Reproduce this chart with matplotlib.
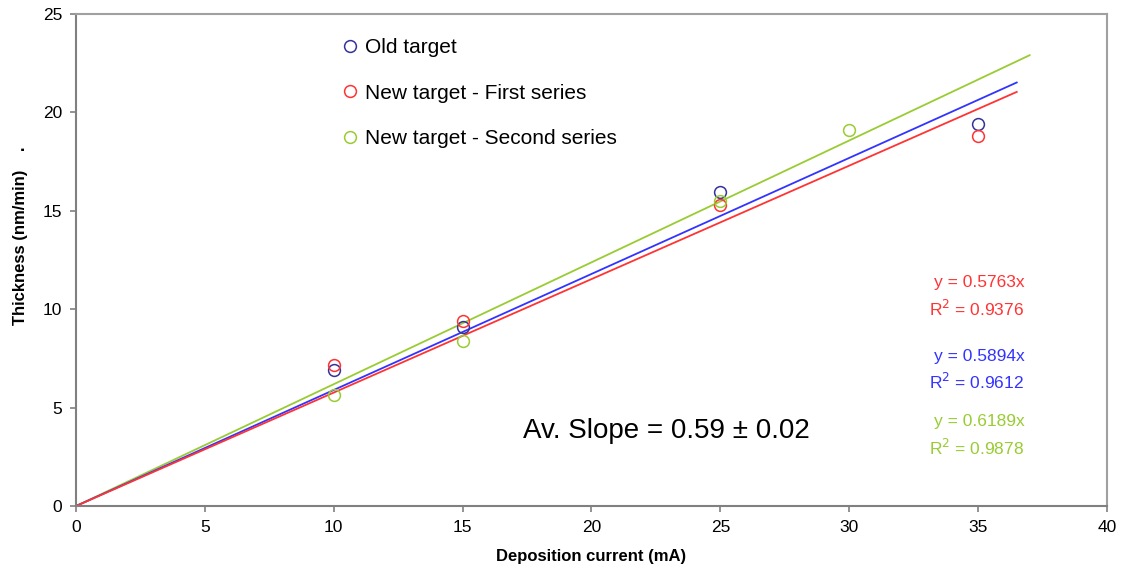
import numpy as np
import matplotlib.pyplot as plt

plt.rcParams['font.family'] = ['Liberation Sans', 'DejaVu Sans']

# measured points
x_old = [10, 15, 25, 35]
y_old = [6.92, 9.1, 15.95, 19.4]
x_first = [10, 15, 25, 35]
y_first = [7.18, 9.42, 15.3, 18.82]
x_second = [10, 15, 25, 30]
y_second = [5.64, 8.38, 15.5, 19.1]

labels = ['Old target', 'New target - First series', 'New target - Second series']

# trendlines through origin
slope_old = 0.5894
slope_first = 0.5763
slope_second = 0.6189
r2_old = 0.9612
r2_first = 0.9376
r2_second = 0.9878
x_end_old = 36.5
x_end_first = 36.5
x_end_second = 37.0

c_old_pt = '#333399'
c_old_ln = '#3333ff'
c_first = '#ff3333'
c_second = '#99cc33'

fig = plt.figure(figsize=(11.23, 5.77), dpi=100)
ax = fig.add_axes([0.0677, 0.123, 0.918, 0.853])

for xe, s, c in [(x_end_second, slope_second, c_second),
                 (x_end_old, slope_old, c_old_ln),
                 (x_end_first, slope_first, c_first)]:
    xs = np.array([0, xe])
    ax.plot(xs, s * xs, color=c, lw=1.3, zorder=2)

ax.plot(x_old, y_old, 'o', mfc='none', mec=c_old_pt, ms=8.5, mew=1.1, label=labels[0], zorder=3)
ax.plot(x_first, y_first, 'o', mfc='none', mec=c_first, ms=8.5, mew=1.1, label=labels[1], zorder=3)
ax.plot(x_second, y_second, 'o', mfc='none', mec=c_second, ms=8.5, mew=1.1, label=labels[2], zorder=3)

ax.set_xlim(0, 40)
ax.set_ylim(0, 25)
ax.set_xticks(range(0, 41, 5))
ax.set_yticks(range(0, 26, 5))
ax.tick_params(direction='out', length=4, width=1.2, color='#808080', labelsize=12.5, pad=6)
for side in ['left', 'bottom']:
    ax.spines[side].set_color('#808080')
    ax.spines[side].set_linewidth(1.5)
for side in ['top', 'right']:
    ax.spines[side].set_color('#a0a0a0')
    ax.spines[side].set_linewidth(1.5)

ax.set_xlabel('Deposition current (mA)', fontsize=12, fontweight='bold', labelpad=10)
ax.set_ylabel('Thickness (nm/min)    .', fontsize=12, fontweight='bold')
ax.yaxis.set_label_coords(-0.047, 0.55)

ax.legend(loc='upper left', bbox_to_anchor=(0.248, 0.968), frameon=False, fontsize=15,
          handletextpad=0.2, labelspacing=1.28, handlelength=1.0, borderaxespad=0)

eq_x = 36.8
fs_eq = 12.5
ax.text(eq_x, 11.33, 'y = %.4fx' % slope_first, color=c_first, ha='right', va='center', fontsize=fs_eq)
ax.text(eq_x, 10.0, 'R$^2$ = %.4f' % r2_first, color=c_first, ha='right', va='center', fontsize=fs_eq)
ax.text(eq_x, 7.6, 'y = %.4fx' % slope_old, color=c_old_ln, ha='right', va='center', fontsize=fs_eq)
ax.text(eq_x, 6.3, 'R$^2$ = %.4f' % r2_old, color=c_old_ln, ha='right', va='center', fontsize=fs_eq)
ax.text(eq_x, 4.27, 'y = %.4fx' % slope_second, color=c_second, ha='right', va='center', fontsize=fs_eq)
ax.text(eq_x, 2.95, 'R$^2$ = %.4f' % r2_second, color=c_second, ha='right', va='center', fontsize=fs_eq)

ax.text(22.9, 3.8, 'Av. Slope = 0.59 \u00b1 0.02', ha='center', va='center', fontsize=20)

fig.savefig('out.png', dpi=100)
